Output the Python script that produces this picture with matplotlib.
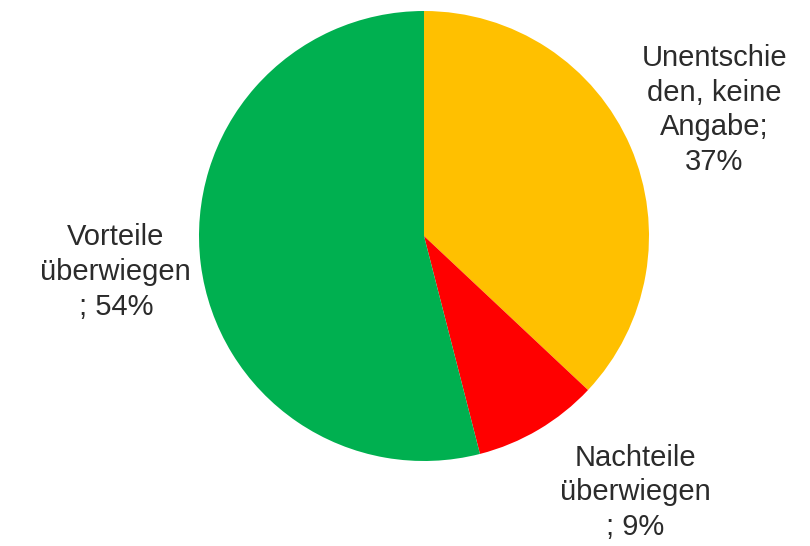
import matplotlib.pyplot as plt

labels = ['Unentschie\nden, keine\nAngabe;\n37%', 'Nachteile\nüberwiegen\n; 9%', 'Vorteile\nüberwiegen\n; 54%']
values = [37, 9, 54]
colors = ['#FFC000', '#FF0000', '#00B050']
label_pos = [(1.29, 0.56), (0.94, -1.14), (-1.37, -0.16)]

plt.rcParams['font.family'] = ['Liberation Sans', 'DejaVu Sans']

fig = plt.figure(figsize=(8.1, 5.46), dpi=100)
# pie centre ~ (424, 236) px, radius ~225 px
ax = fig.add_axes([(424 - 225) / 810, (546 - 236 - 225) / 546, 450 / 810, 450 / 546])
ax.pie(values, colors=colors, startangle=90, counterclock=False, radius=1,
       wedgeprops={'linewidth': 0})
ax.set_xlim(-1, 1)
ax.set_ylim(-1, 1)
ax.set_aspect('equal')
ax.axis('off')

for lab, (x, y) in zip(labels, label_pos):
    ax.text(x, y, lab, ha='center', va='center', fontsize=21, color='#2b2b2b',
            linespacing=1.3, clip_on=False)

fig.savefig('out.png', dpi=100)
